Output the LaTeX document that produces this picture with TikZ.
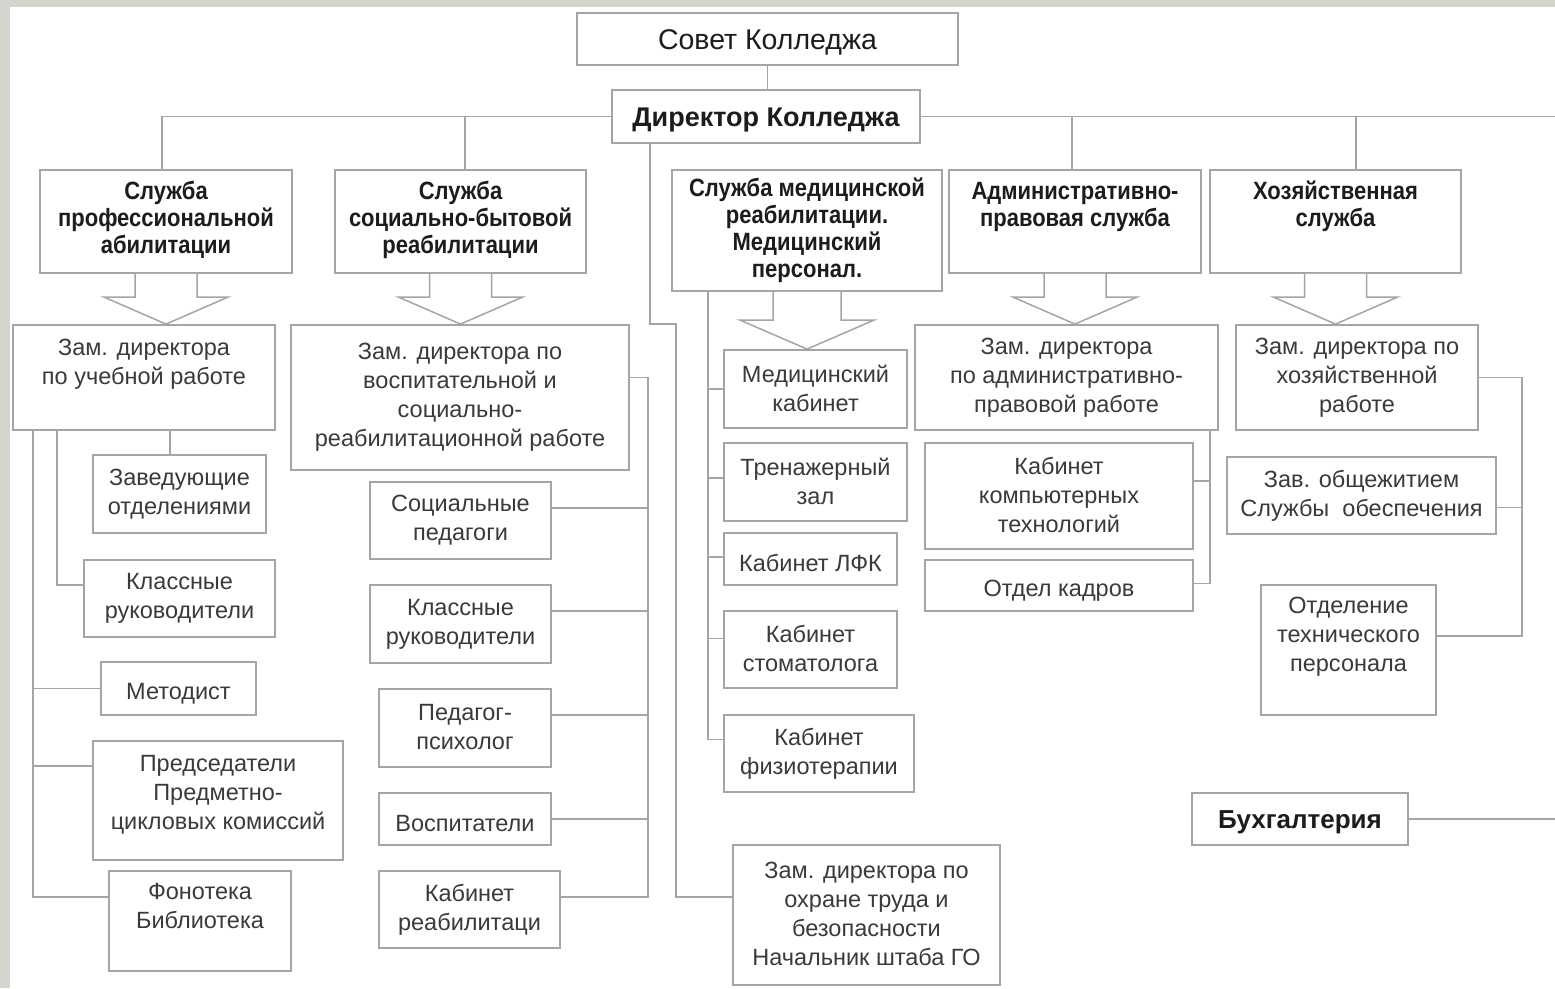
\documentclass[tikz,border=0pt]{standalone}
\usepackage{fontspec}
\setmainfont{Liberation Sans}
\newfontfamily\headfont[FakeStretch=0.88]{Liberation Sans}
\usetikzlibrary{calc}
\definecolor{framec}{RGB}{212,212,207}
\definecolor{linec}{RGB}{165,165,165}
\definecolor{txtc}{RGB}{58,58,58}
\definecolor{boldc}{RGB}{28,28,28}
\newcommand\tstrut[1]{\rule{0pt}{\dimexpr0.7\baselineskip+#1\relax}}
\newcommand\bstrut[1]{\rule[\dimexpr-0.3\baselineskip+#1\relax]{0pt}{\dimexpr0.3\baselineskip-#1\relax}}
\tikzset{
  boxbase/.style={draw=linec, line width=1.8pt, fill=white, inner sep=0pt, align=center},
  box/.style={boxbase, text=txtc, font=\fontsize{23.5}{29}\selectfont,
    execute at begin node=\tstrut{7pt}, execute at end node=\bstrut{7pt}},
  headbox/.style={boxbase, text=boldc, font=\headfont\bfseries\fontsize{25}{27}\selectfont,
    execute at begin node=\tstrut{0pt}, execute at end node=\bstrut{0pt}},
  medhead/.style={boxbase, text=boldc, font=\headfont\bfseries\fontsize{25}{27}\selectfont,
    execute at begin node=\tstrut{6pt}, execute at end node=\bstrut{6pt}},
  topbox/.style={boxbase, text=boldc, font=\fontsize{28.5}{32}\selectfont,
    execute at begin node=\tstrut{4pt}, execute at end node=\bstrut{4pt}},
  dirbox/.style={boxbase, text=boldc, font=\bfseries\fontsize{27}{32}\selectfont,
    execute at begin node=\tstrut{4pt}, execute at end node=\bstrut{4pt}},
  buhbox/.style={boxbase, text=boldc, font=\bfseries\fontsize{26}{29}\selectfont,
    execute at begin node=\tstrut{4pt}, execute at end node=\bstrut{4pt}},
  conn/.style={draw=linec, line width=1.5pt},
}
\newcommand\mkbox[7]{\node[#6, minimum width={(#4)-(#2)}, minimum height={(#5)-(#3)}] (#1) at ({((#2)+(#4))/2},{((#3)+(#5))/2}) {#7};}
\newcommand\blkarrow[5]{\draw[conn, fill=white] let \p1=(#1.south), \p2=(#1.south |- #2.north) in
  (\x1-#3pt,\y1) -- (\x1-#3pt,\y2+#5pt) -- (\x1-#4pt,\y2+#5pt) -- (\p2) -- (\x1+#4pt,\y2+#5pt) -- (\x1+#3pt,\y2+#5pt) -- (\x1+#3pt,\y1);}
\begin{document}
\begin{tikzpicture}[x=1pt, y=-1pt]
\useasboundingbox (0,0) rectangle (1555,988);
\fill[framec] (0,0) rectangle (1555,988);
\fill[white] (10,7) rectangle (1555,988);
\coordinate (redge) at (1555,0);

% top
\mkbox{sovet}{577}{13}{958}{65}{topbox}{Совет Колледжа}
\mkbox{dir}{612}{90}{920}{143}{dirbox}{Директор Колледжа}

% services
\mkbox{prof}{40}{170}{292}{273}{headbox}{Служба\\профессиональной\\абилитации}
\mkbox{soc}{335}{170}{586}{273}{headbox}{Служба\\социально-бытовой\\реабилитации}
\mkbox{med}{672}{170}{942}{291}{medhead}{Служба медицинской\\реабилитации.\\Медицинский\\персонал.}
\mkbox{adm}{949}{170}{1201}{273}{headbox}{Административно-\\правовая служба\\\mbox{}}
\mkbox{hoz}{1210}{170}{1461}{273}{headbox}{Хозяйственная\\служба\\\mbox{}}

% deputies
\mkbox{zu}{13}{325}{275}{430}{box}{Зам. директора\\по учебной работе\\\mbox{}}
\mkbox{vos}{291}{325}{629}{470}{box}{Зам. директора по\\воспитательной и\\социально-\\реабилитационной работе}
\mkbox{medk}{724}{350}{907}{428}{box}{Медицинский\\кабинет}
\mkbox{zadm}{915}{325}{1218}{430}{box}{Зам. директора\\по административно-\\правовой работе}
\mkbox{zhoz}{1236}{325}{1478}{430}{box}{Зам. директора по\\хозяйственной\\работе}

% left column
\mkbox{zav}{93}{455}{266}{533}{box}{Заведующие\\отделениями}
\mkbox{kl1}{84}{560}{275}{637}{box}{Классные\\руководители}
\mkbox{metod}{101}{662}{256}{715}{box}{Методист}
\mkbox{pred}{93}{741}{343}{860}{box}{Председатели\\Предметно-\\цикловых комиссий\\[-14.5pt]\mbox{}}
\mkbox{fon}{109}{871}{291}{971}{box}{Фонотека\\Библиотека\\\mbox{}}

% middle column
\mkbox{socp}{370}{482}{551}{559}{box}{Социальные\\педагоги}
\mkbox{kl2}{370}{585}{551}{663}{box}{Классные\\руководители}
\mkbox{psy}{379}{689}{551}{767}{box}{Педагог-\\психолог}
\mkbox{vsp}{379}{793}{551}{845}{box}{Воспитатели}
\mkbox{kabr}{379}{871}{560}{948}{box}{Кабинет\\реабилитаци}

% medical column
\mkbox{tren}{724}{443}{907}{521}{box}{Тренажерный\\зал}
\mkbox{lfk}{724}{533}{897}{585}{box}{Кабинет ЛФК}
\mkbox{stom}{724}{611}{897}{688}{box}{Кабинет\\стоматолога}
\mkbox{fiz}{724}{715}{914}{792}{box}{Кабинет\\физиотерапии}
\mkbox{ohr}{733}{845}{1000}{985}{box}{Зам. директора по\\охране труда и\\безопасности\\Начальник штаба ГО}

% admin column
\mkbox{komp}{925}{443}{1193}{549}{box}{Кабинет\\компьютерных\\технологий}
\mkbox{kadr}{925}{560}{1193}{611}{box}{Отдел кадров}

% household column
\mkbox{zavob}{1227}{457}{1496}{534}{box}{Зав. общежитием\\Службы~ обеспечения}
\mkbox{otp}{1261}{585}{1436}{715}{box}{Отделение\\технического\\персонала\\\mbox{}}
\mkbox{buh}{1192}{793}{1408}{845}{buhbox}{Бухгалтерия}

% top connectors
\draw[conn] (sovet.south) -- (sovet.south |- dir.north);
\draw[conn] (dir.west) -| ([xshift=-4pt]prof.north);
\draw[conn] ([xshift=4.5pt]soc.north) -- ([xshift=4.5pt]soc.north |- dir.west);
\draw[conn] (dir.east) -- (dir.east -| redge);
\draw[conn] ([xshift=-3pt]adm.north) -- ([xshift=-3pt]adm.north |- dir.east);
\draw[conn] ([xshift=20.5pt]hoz.north) -- ([xshift=20.5pt]hoz.north |- dir.east);
\coordinate (jog) at (676,324);
\draw[conn] ([xshift=-116pt]dir.south) |- (jog) |- ([yshift=18pt]ohr.west);

% block arrows
\blkarrow{prof}{zu}{31}{62}{27}
\blkarrow{soc}{vos}{31}{62}{27}
\blkarrow{med}{medk}{34}{67}{29}
\blkarrow{adm}{zadm}{31}{62}{27}
\blkarrow{hoz}{zhoz}{31}{62}{27}

% left column connectors
\coordinate (busA) at ([xshift=-111pt]zu.south);
\draw[conn] (busA) |- ([yshift=24pt]fon.west);
\draw[conn] (metod.west) -- (metod.west -| busA);
\draw[conn] ([yshift=34.5pt]pred.west) -- ([yshift=34.5pt]pred.west -| busA);
\draw[conn] ([xshift=-87pt]zu.south) |- ([yshift=13.5pt]kl1.west);
\draw[conn] ([xshift=26pt]zu.south) -- ([xshift=26pt]zu.south |- zav.north);

% middle column connectors
\coordinate (busB) at ([xshift=18pt,yshift=20pt]vos.east);
\draw[conn] ([yshift=20pt]vos.east) -- (busB) |- ([yshift=12.5pt]kabr.east);
\draw[conn] ([yshift=12.5pt]socp.east) -- ([yshift=12.5pt]socp.east -| busB);
\draw[conn] ([yshift=13pt]kl2.east) -- ([yshift=13pt]kl2.east -| busB);
\draw[conn] ([yshift=13pt]psy.east) -- ([yshift=13pt]psy.east -| busB);
\draw[conn] (vsp.east) -- (vsp.east -| busB);

% medical connectors
\coordinate (busC) at ([xshift=-99pt]med.south);
\draw[conn] (busC) |- ([yshift=14pt]fiz.west);
\draw[conn] (medk.west) -- (medk.west -| busC);
\draw[conn] ([yshift=4pt]tren.west) -- ([yshift=4pt]tren.west -| busC);
\draw[conn] ([yshift=2pt]lfk.west) -- ([yshift=2pt]lfk.west -| busC);
\draw[conn] ([yshift=11pt]stom.west) -- ([yshift=11pt]stom.west -| busC);

% admin connectors
\coordinate (busD) at ([xshift=143.5pt]zadm.south);
\draw[conn] (busD) |- ([yshift=2pt]kadr.east);
\draw[conn] ([yshift=15pt]komp.east) -- ([yshift=15pt]komp.east -| busD);

% household connectors
\coordinate (busE) at ([xshift=43pt]zhoz.east);
\draw[conn] (zhoz.east) -- (busE) |- ([yshift=14pt]otp.east);
\draw[conn] ([yshift=-12pt]zavob.east) -- ([yshift=-12pt]zavob.east -| busE);
\draw[conn] (buh.east) -- (buh.east -| redge);
\end{tikzpicture}
\end{document}
